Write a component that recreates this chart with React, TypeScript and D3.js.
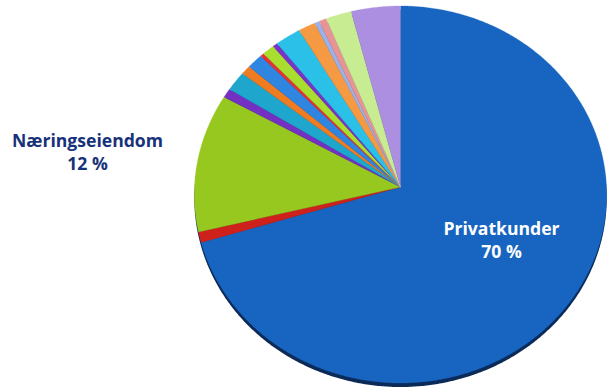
import React from "react";
import * as d3 from "d3";

const categories = [
  "Privatkunder", "Annet 1", "Næringseiendom", "Annet 2", "Annet 3", "Annet 4",
  "Annet 5", "Annet 6", "Annet 7", "Annet 8", "Annet 9", "Annet 10",
  "Annet 11", "Annet 12", "Annet 13", "Annet 14",
];
const values = [70.3, 0.9, 11.9, 0.8, 1.7, 0.8, 1.3, 0.3, 1.0, 0.4, 2.1, 1.4, 0.4, 0.6, 2.1, 4.0];
const colors = [
  "#1765c0", "#cf211b", "#97c81f", "#7430c2", "#1fa6cc", "#f07c22",
  "#2e86e0", "#e83232", "#a9de2e", "#7a32c8", "#2bc0e8", "#f59a42",
  "#9ab2e8", "#e99494", "#c8ec92", "#ac8fe0",
];
const labels = [
  { lines: ["Privatkunder", "70 %"], x: 501.5, y: 235, color: "#ffffff" },
  { lines: ["Næringseiendom", "12 %"], x: 87.5, y: 147, color: "#17327a" },
];

const W = 609, H = 390;
const cx = 400.5, cy = 187;
const B = 206, A = 188.2, K = 0.0398;

function project(theta: number): [number, number] {
  const u = Math.sin(theta);
  const v = -Math.cos(theta);
  const d = 1 - K * v;
  return [cx + (B * u) / d, cy + (A * v) / d];
}

function slicePoints(a0: number, a1: number): [number, number][] {
  const n = Math.max(4, Math.ceil(((a1 - a0) * 180) / Math.PI) * 2);
  const pts: [number, number][] = [[cx, cy]];
  for (let i = 0; i <= n; i++) pts.push(project(a0 + ((a1 - a0) * i) / n));
  return pts;
}

export default function App() {
  const pie = d3.pie<number>().sort(null).value((d) => d).startAngle(0).endAngle(2 * Math.PI);
  const arcs = pie(values);
  const line = d3.line().curve(d3.curveLinear);
  const outline = slicePoints(0, 2 * Math.PI).slice(1);
  const outlinePath = line(outline) + "Z";
  return (
    <svg width={W} height={H} style={{ position: "absolute", left: 0, top: 0 }}
      fontFamily="'Open Sans', 'Noto Sans', sans-serif">
      <path d={outlinePath} transform="translate(0,4)" fill="#0b2a57" />
      {arcs.map((a, i) => (
        <path key={categories[i]} d={line(slicePoints(a.startAngle, a.endAngle)) + "Z"}
          fill={colors[i]} stroke={colors[i]} strokeWidth={0.3} />
      ))}
      {labels.map((l) => (
        <text key={l.lines[0]} x={l.x} y={l.y} textAnchor="middle" fill={l.color}
          fontWeight="bold" fontSize={17.6}>
          {l.lines.map((t, j) => (
            <tspan key={t} x={l.x} dy={j === 0 ? 0 : 23}>{t}</tspan>
          ))}
        </text>
      ))}
    </svg>
  );
}
